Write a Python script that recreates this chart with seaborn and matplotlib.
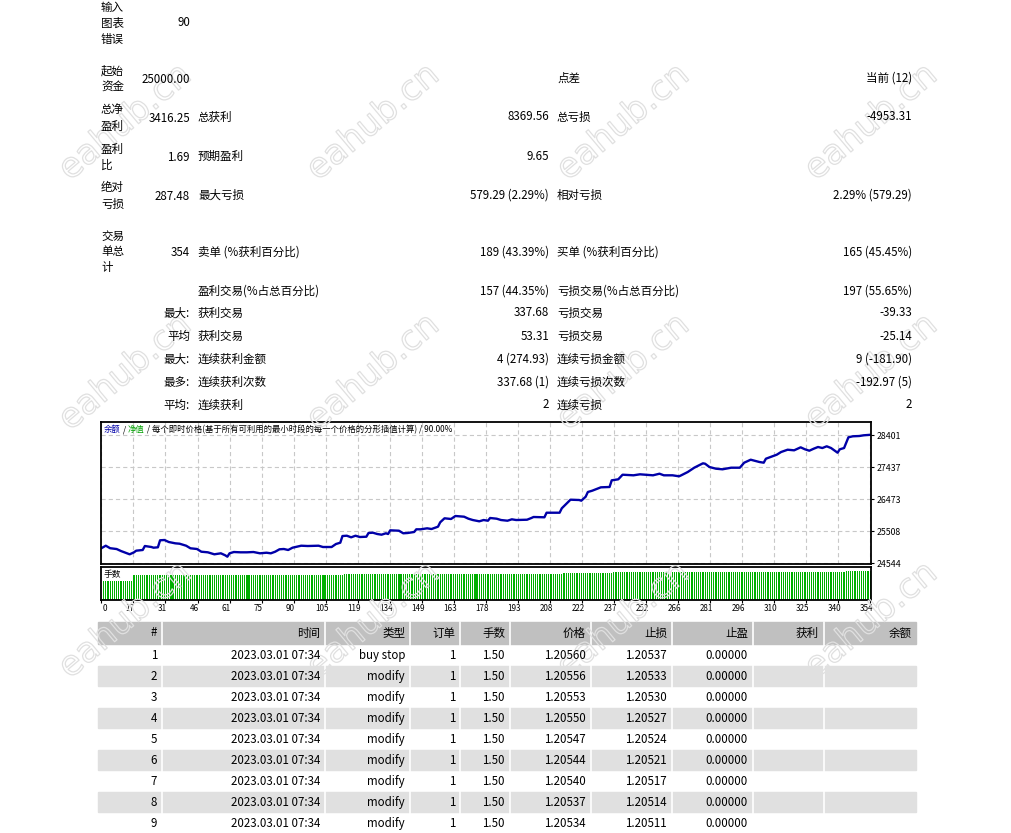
import numpy as np
import pandas as pd
import matplotlib
matplotlib.use("Agg")
import matplotlib.pyplot as plt
import matplotlib.patheffects as pe
from matplotlib.patches import Rectangle
from matplotlib.transforms import ScaledTranslation
import seaborn as sns

W, H = 1011, 833

# ---- report summary (left label block: lines, value) ----
left_labels = [["输入", "图表", "错误"], ["起始", "资金"], ["总净", "盈利"],
               ["盈利", "比"], ["绝对", "亏损"], ["交易", "单总", "计"]]
left_values = ["90", "25000.00", "3416.25", "1.69", "287.48", "354"]

# ---- report summary (row prefix, label1, value1, label2, value2) ----
stat_rows = [
    ("", "", "", "点差", "当前 (12)"),
    ("", "总获利", "8369.56", "总亏损", "-4953.31"),
    ("", "预期盈利", "9.65", "", ""),
    ("", "最大亏损", "579.29 (2.29%)", "相对亏损", "2.29% (579.29)"),
    ("", "卖单 (%获利百分比)", "189 (43.39%)", "买单 (%获利百分比)", "165 (45.45%)"),
    ("", "盈利交易(%占总百分比)", "157 (44.35%)", "亏损交易(%占总百分比)", "197 (55.65%)"),
    ("最大:", "获利交易", "337.68", "亏损交易", "-39.33"),
    ("平均", "获利交易", "53.31", "亏损交易", "-25.14"),
    ("最大:", "连续获利金额", "4 (274.93)", "连续亏损金额", "9 (-181.90)"),
    ("最多:", "连续获利次数", "337.68 (1)", "连续亏损次数", "-192.97 (5)"),
    ("平均:", "连续获利", "2", "连续亏损", "2"),
]

# ---- balance curve (trade number, balance) ----
bal_trade = [0, 2, 4, 7, 9, 11, 13, 15, 16, 19,
             20, 23, 24, 26, 27, 29, 31, 34, 36, 39,
             41, 44, 46, 49, 52, 55, 57, 58, 59, 61,
             64, 67, 70, 73, 76, 78, 80, 82, 84, 86,
             88, 92, 95, 100, 102, 106, 108, 110, 111, 113,
             115, 117, 119, 122, 123, 125, 127, 129, 131, 132,
             133, 137, 139, 141, 144, 145, 147, 150, 152, 155,
             156, 158, 161, 163, 167, 169, 171, 174, 176, 178,
             179, 182, 184, 187, 189, 191, 196, 198, 199, 204,
             205, 211, 212, 214, 216, 220, 221, 223, 224, 226,
             228, 230, 233, 234, 235, 238, 240, 245, 248, 254,
             257, 259, 263, 266, 267, 270, 273, 277, 278, 280,
             283, 286, 290, 294, 296, 299, 303, 305, 306, 309,
             311, 313, 316, 319, 322, 324, 326, 328, 330, 332,
             334, 336, 339, 340, 342, 344, 346, 349, 351, 354]
bal_value = [25000, 25075, 25000, 24975, 24915, 24864, 24816, 24876, 24925, 24946,
             25066, 25036, 25015, 25027, 25238, 25247, 25187, 25147, 25135, 25075,
             24997, 24976, 24894, 24876, 24816, 24846, 24786, 24744, 24846, 24885,
             24876, 24876, 24885, 24846, 24864, 24846, 24894, 24967, 24976, 24946,
             25015, 25075, 25066, 25075, 25036, 25036, 25126, 25166, 25367, 25376,
             25328, 25376, 25337, 25346, 25458, 25467, 25428, 25407, 25449, 25428,
             25539, 25527, 25449, 25458, 25488, 25569, 25569, 25599, 25578, 25648,
             25780, 25901, 25880, 25970, 25949, 25889, 25849, 25810, 25849, 25828,
             25910, 25889, 25849, 25828, 25870, 25849, 25858, 25910, 25940, 25931,
             26069, 26069, 26202, 26331, 26461, 26452, 26431, 26551, 26693, 26732,
             26783, 26834, 26844, 26844, 27045, 27075, 27214, 27196, 27226, 27196,
             27244, 27196, 27196, 27166, 27196, 27295, 27425, 27557, 27545, 27446,
             27395, 27377, 27425, 27425, 27576, 27666, 27597, 27576, 27696, 27768,
             27817, 27898, 27967, 27949, 28039, 27979, 27937, 27997, 28049, 28018,
             28070, 28018, 27877, 27979, 28018, 28341, 28371, 28380, 28401, 28416]
bal_ticks = [24544, 25508, 26473, 27437, 28401]

# ---- lots per trade, read as runs of equal bars ----
lot_run_values = [1.50, 2.00, 2.05, 2.13, 2.20, 2.28]
lot_run_counts = [14, 97, 101, 23, 107, 12]

x_tick_labels = ["0", "17", "31", "46", "61", "75", "90", "105", "119", "134", "149", "163",
                 "178", "193", "208", "222", "237", "252", "266", "281", "296", "310", "325",
                 "340", "354"]
legend_title = "每个即时价格(基于所有可利用的最小时段的每一个价格的分形插值计算) / 90.00%"

# ---- order table ----
tbl_header = ["#", "时间", "类型", "订单", "手数", "价格", "止损", "止盈", "获利", "余额"]
tbl_no = [1, 2, 3, 4, 5, 6, 7, 8, 9]
tbl_time = ["2023.03.01 07:34"] * 9
tbl_type = ["buy stop"] + ["modify"] * 8
tbl_order = [1] * 9
tbl_lots = [1.50] * 9
tbl_price = [1.20560, 1.20556, 1.20553, 1.20550, 1.20547, 1.20544, 1.20540, 1.20537, 1.20534]
tbl_sl = [1.20537, 1.20533, 1.20530, 1.20527, 1.20524, 1.20521, 1.20517, 1.20514, 1.20511]
tbl_tp = [0.0] * 9

sns.set_theme(style="white")
plt.rcParams['font.family'] = ['Noto Sans CJK SC', 'DejaVu Sans']
plt.rcParams['lines.scale_dashes'] = False

fig = plt.figure(figsize=(W / 100, H / 100), dpi=100)
fig.patch.set_facecolor('white')


def fx(x):
    return x / W


def fy(y):
    return 1 - y / H


def put(x, y, s, ha='left', size=8.3, **kw):
    return fig.text(fx(x), fy(y), s, ha=ha, va='center', fontsize=size, color='black',
                    zorder=3, **kw)


# summary block
left_y = [[7, 23, 39], [71, 87], [110, 126], [149, 165], [188, 204], [236, 252, 268]]
for lines, ys, val in zip(left_labels, left_y, left_values):
    for s, y in zip(lines, ys):
        put(101, y, s)
    put(190, ys[1] if len(ys) == 3 else (ys[0] + ys[1]) / 2 + 0.5, val, ha='right')

row_y = [78, 117, 156, 195, 252, 291, 313, 336, 359, 382, 405]
for y, (pre, l1, v1, l2, v2) in zip(row_y, stat_rows):
    if pre:
        put(190, y, pre, ha='right')
    put(198, y, l1)
    put(549, y, v1, ha='right')
    put(557, y, l2)
    put(912, y, v2, ha='right')

# balance chart
ax = fig.add_axes([fx(101), fy(564), 770 / W, 142 / H])
df_bal = pd.DataFrame({"trade": bal_trade, "balance": bal_value})
sns.lineplot(data=df_bal, x="trade", y="balance", ax=ax, color='#0000A8', linewidth=1.7)
xlo, xhi = -0.2, 354.4
ax.set_xlim(xlo, xhi)
ax.set_ylim(24524, 28802)
grid_pos = np.linspace(0, 354, len(x_tick_labels))
ax.set_xticks(grid_pos)
ax.set_xticklabels([])
ax.set_yticks(bal_ticks)
ax.set_yticklabels([str(v) for v in bal_ticks])
ax.yaxis.tick_right()
ax.tick_params(axis='x', length=0)
ax.tick_params(axis='y', right=True, length=2, width=0.8, direction='out', pad=2,
               labelsize=6.3, colors='black')
ax.grid(True, color='#c8c8c8', linestyle=(0, (3, 2.2)), linewidth=0.8)
ax.set_xlabel("")
ax.set_ylabel("")
for sp in ax.spines.values():
    sp.set_color('black')
    sp.set_linewidth(1.3)

t1 = ax.text(0.004, 0.945, "余额", transform=ax.transAxes, fontsize=6, color='#0000A8', va='center')
t2 = ax.annotate(" / ", xy=(1, 0), xycoords=t1, fontsize=6, color='black', va='bottom')
t3 = ax.annotate("净值", xy=(1, 0), xycoords=t2, fontsize=6, color='#00A000', va='bottom')
ax.annotate(" / " + legend_title, xy=(1, 0), xycoords=t3, fontsize=6, color='black', va='bottom')

# lots panel
axv = fig.add_axes([fx(101), fy(600), 770 / W, 33 / H])
lots = np.repeat(lot_run_values, lot_run_counts)
df_vol = pd.DataFrame({"trade": np.arange(1, len(lots) + 1), "lots": lots})
sns.barplot(data=df_vol, x="trade", y="lots", ax=axv, native_scale=True, color='#00B000',
            width=0.55, errorbar=None, saturation=1, linewidth=0)
axv.set_xlim(xlo, xhi)
axv.set_ylim(0, 2.6)
axv.set_yticks([])
axv.set_xticks(grid_pos)
axv.set_xticklabels(x_tick_labels)
axv.tick_params(axis='x', bottom=True, length=2, width=0.8, direction='out', pad=1,
                labelsize=5.8, colors='black')
axv.set_xlabel("")
axv.set_ylabel("")
for sp in axv.spines.values():
    sp.set_color('black')
    sp.set_linewidth(1.3)
for k, lab in enumerate(axv.get_xticklabels()):
    dx = 0.03 if k == 0 else -0.035
    lab.set_transform(lab.get_transform() + ScaledTranslation(dx, 0, fig.dpi_scale_trans))
put(104, 575, "手数", size=6.3)

# order table
col_edges = [98, 161, 324, 409, 459, 509, 590, 671, 752, 823, 916]
fig.patches.append(Rectangle((fx(98), fy(644)), (916 - 98) / W, 22 / H,
                             transform=fig.transFigure, color='#c0c0c0', zorder=0))
for i in range(len(tbl_no)):
    if i % 2 == 1:
        top = 645 + 21 * i
        fig.patches.append(Rectangle((fx(98), fy(top + 20)), (916 - 98) / W, 20 / H,
                                     transform=fig.transFigure, color='#e0e0e0', zorder=0))
for e in col_edges[1:-1]:
    fig.lines.append(plt.Line2D([fx(e + 0.5), fx(e + 0.5)], [fy(622), fy(833)],
                                transform=fig.transFigure, color='white', lw=1.2, zorder=0.5))

for j, h in enumerate(tbl_header):
    put(col_edges[j + 1] - 4, 633, h, ha='right')
for i in range(len(tbl_no)):
    y = 655.7 + 21 * i
    cells = [str(tbl_no[i]), tbl_time[i], tbl_type[i], str(tbl_order[i]),
             f"{tbl_lots[i]:.2f}", f"{tbl_price[i]:.5f}", f"{tbl_sl[i]:.5f}",
             f"{tbl_tp[i]:.5f}", "", ""]
    for j, c in enumerate(cells):
        if c:
            put(col_edges[j + 1] - 4, y, c, ha='right')

# watermark (hollow outlined text)
wm_x = [125, 373, 623, 871]
wm_y = [122, 372, 620]
for wy in wm_y:
    for wx in wm_x:
        wt = fig.text(fx(wx), fy(wy), "eahub.cn", fontsize=25, rotation=40, ha='center',
                      va='center', color='none', family='DejaVu Sans', zorder=1)
        wt.set_path_effects([pe.Stroke(linewidth=0.9, foreground='#e0e0e0')])

fig.savefig("out.png", dpi=100, facecolor='white')
